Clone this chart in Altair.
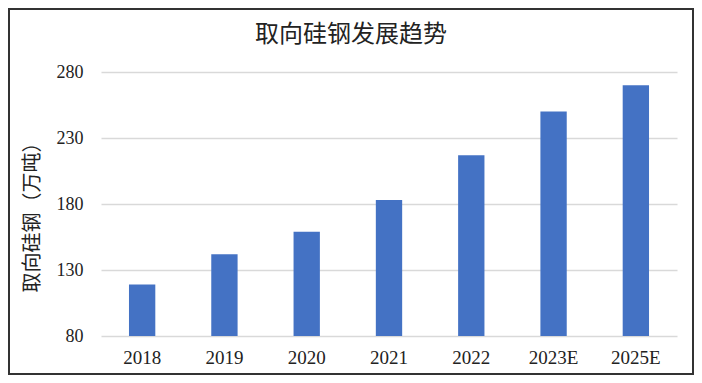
import altair as alt
import pandas as pd

years = ["2018", "2019", "2020", "2021", "2022", "2023E", "2025E"]
values = [119, 142, 159, 183, 217, 250, 270]
y_ticks = [80, 130, 180, 230, 280]
title_text = "取向硅钢发展趋势"
y_title = "取向硅钢（万吨）"

df = pd.DataFrame({"year": years, "value": values})

W, H = 576, 264
PAD_L, PAD_T, PAD_R, PAD_B = 93, 64, 17, 39

bars = alt.Chart(df).mark_bar(color="#4472C4", clip=True).encode(
    x=alt.X("year:N", sort=years,
            scale=alt.Scale(paddingInner=0.68, paddingOuter=0.34),
            axis=alt.Axis(title=None, labelAngle=0, ticks=False, domain=False,
                          labelFont="Liberation Serif", labelFontSize=19,
                          labelColor="#222222", labelPadding=12)),
    y=alt.Y("value:Q",
            scale=alt.Scale(domain=[80, 280], nice=False, zero=False),
            axis=alt.Axis(values=y_ticks, title=y_title, ticks=False, domain=False,
                          gridColor="#d9d9d9", gridWidth=1.5,
                          labelFont="Liberation Serif", labelFontSize=18,
                          labelColor="#222222", labelPadding=18,
                          titleFont="Noto Sans CJK SC", titleFontSize=20,
                          titleFontWeight="normal", titleColor="#222222",
                          titlePadding=14, titleY=140)),
)

title = alt.Chart(pd.DataFrame({"t": [title_text]})).mark_text(
    font="Noto Sans CJK SC", fontSize=24, color="#222222",
    align="center", baseline="middle", clip=False
).encode(
    text="t:N", x=alt.value(250), y=alt.value(-37),
)

border = alt.Chart(pd.DataFrame({"k": [0]})).mark_rect(
    fill=None, stroke="#333333", strokeWidth=2, clip=False
).encode(
    x=alt.value(-PAD_L + 1), x2=alt.value(W + PAD_R - 1),
    y=alt.value(-PAD_T + 1), y2=alt.value(H + PAD_B - 1),
)

chart = alt.layer(bars, title, border).properties(
    width=W, height=H,
    autosize=alt.AutoSizeParams(type="none"),
    padding={"left": PAD_L, "top": PAD_T, "right": PAD_R, "bottom": PAD_B},
).configure(background="white").configure_view(stroke=None)

chart.save("out.html", embed_options={"renderer": "svg", "actions": False})
